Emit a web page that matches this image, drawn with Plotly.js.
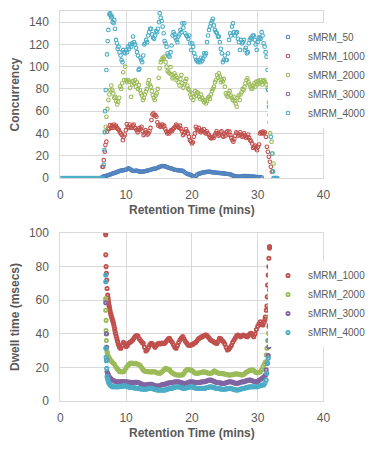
<!DOCTYPE html>
<html><head><meta charset="utf-8">
<script src="https://cdn.plot.ly/plotly-3.0.1.min.js"></script>
<style>html,body{margin:0;padding:0;background:#fff}#chart{width:371px;height:456px}</style>
</head><body><div id="chart"></div>
<script>
// ---------- data ----------
const seriesNames = ['sMRM_50','sMRM_1000','sMRM_2000','sMRM_3000','sMRM_4000'];
const xTicks = [0,10,20,30,40];

// Top chart: concurrency vs retention time
const concTime50 = [6.4,6.6,6.8,7.0,7.2, 7.4,7.6,7.8,8.0,8.2, 8.4,8.6,8.8,9.0,9.2, 9.4,9.6,9.8,10.0,10.2, 10.4,10.6,10.8,11.0,11.2, 11.4,11.6,11.8,12.0,12.2, 12.4,12.6,12.8,13.0,13.2, 13.4,13.6,13.8,14.0,14.2, 14.4,14.6,14.8,15.0,15.2, 15.4,15.6,15.8,16.0,16.2, 16.4,16.6,16.8,17.0,17.2, 17.4,17.6,17.8,18.0,18.2, 18.4,18.6,18.8,19.0,19.2, 19.4,19.6,19.8,20.0,20.2, 20.4,20.6,20.8,21.0,21.2, 21.4,21.6,21.8,22.0,22.2, 22.4,22.6,22.8,23.0,23.2, 23.4,23.6,23.8,24.0,24.2, 24.4,24.6,24.8,25.0,25.2, 25.4,25.6,25.8,26.0,26.2, 26.4,26.6,26.8,27.0,27.2, 27.4,27.6,27.8,28.0,28.2, 28.4,28.6,28.8,29.0,29.2, 29.4,29.6,29.8,30.0,30.2, 30.4,30.6];
const concVal50 = [1,1.3,1.6,2,2.4, 2.7,3.2,3.6,4.1,4.5, 4.8,5.3,5.8,6.3,6.6, 6.8,7,7.2,7.5,8.2, 8.7,8,7,6.5,6.3, 6.5,6.6,6.2,5.9,5.7, 5.7,5.8,6,6.3,6.6, 6.9,7.2,7.6,8,8.3, 8.5,8.7,9.2,9.8,10.3, 10.6,10.8,10.6,10.2,9.8, 9.4,9,8.7,8.3,7.8, 7.4,7.2,7,6.8,6.7, 6.6,6.4,5.6,4.7,4, 3.5,3.1,2.8,2.2,1.4, 0.6,1.8,3,3.7,4, 4.4,4.8,5,5.2,5.4, 5.6,5.7,5.5,5.3,5.1, 5,4.8,4.7,4.6,4.5, 4.3,4.2,4.1,4,3.8, 3.6,3.6,3.3,2.8,2.3, 1.8,1.5,1.3,1.2,1.2, 1.2,1.4,1.6,1.8,1.8, 1.8,1.6,1.4,1.2,1.2, 1.2,1,0.9,0.8,0.7, 0.6,0.5];

const concTime1000 = [6.4,6.5,6.6,6.75,6.85,7.0,7.1,7.25,7.4,7.55,7.7,7.85,8.0,8.15,8.3,8.45,8.6,8.75,8.9,9.05,9.2,9.35,9.5,9.65,9.8,9.95,10.1,10.25,10.4,10.55,10.7,10.85,11.0,11.15,11.3,11.45,11.6,11.75,11.9,12.05,12.2,12.35,12.5,12.65,12.8,12.95,13.1,13.25,13.4,13.55,13.7,13.85,14.0,14.15,14.3,14.45,14.6,14.75,14.9,15.05,15.2,15.35,15.5,15.65,15.8,15.95,16.1,16.25,16.4,16.55,16.7,16.85,17.0,17.15,17.3,17.45,17.6,17.75,17.9,18.05,18.2,18.35,18.5,18.65,18.8,18.95,19.1,19.25,19.4,19.55,19.7,19.85,20.0,20.15,20.3,20.45,20.6,20.75,20.9,21.05,21.2,21.35,21.5,21.65,21.8,21.95,22.1,22.25,22.4,22.55,22.7,22.85,23.0,23.15,23.3,23.45,23.6,23.75,23.9,24.05,24.2,24.35,24.5,24.65,24.8,24.95,25.1,25.25,25.4,25.55,25.7,25.85,26.0,26.15,26.3,26.45,26.6,26.75,26.9,27.05,27.2,27.35,27.5,27.65,27.8,27.95,28.1,28.25,28.4,28.55,28.7,28.85,29.0,29.15,29.3,29.45,29.6,29.75,29.9,30.05,30.2,30.35,30.5,30.65,30.8,30.95,31.1,31.25,31.4,31.55,31.7,31.85,32.0,32.15];
const concVal1000 = [10,10,16,23.6,29.6,32.6,41.6,44.6,44,47.6,45,47,45,48,46,47,45,44,43,41,40,38.6,34,37,39,43,48.5,46,45,48,46,45,47,48,45,44.6,43,41,43,45,44,46,42,38.6,40,43,41,39,40,42,45,52,57,58,56,56.5,55,50,47,48,46,47,48,46,47,44,42,40,41,40,42,43,42,44,45,46,48,47,46,45,47,44,42,38.6,40,41,44,42,40,37,34,33,31,32,37,40,46,44,43,45,42,41,43,42,44,41,40,42,40,39,37,36,35.6,37,36,38,40,42,40,38,39,41,42,38,37,40,38,41,42,39,41.6,38.6,36,34,32.6,35,38,41,40,38,39,41,39,37,38,40,38,36,37,39,36,34,33,31,27,28,29,26.6,25,28,30,40,41,40,41.6,40,41,37,28,23.6,19,14.6,10,5.6];

const concTime2000 = [6.8,6.9,7.0,7.15,7.3,7.45,7.6,7.75,7.9,8.05,8.2,8.35,8.5,8.65,8.8,8.95,9.1,9.25,9.4,9.55,9.7,9.85,10.0,10.15,10.3,10.45,10.6,10.75,10.9,11.05,11.2,11.35,11.5,11.65,11.8,11.95,12.1,12.25,12.4,12.55,12.7,12.85,13.0,13.15,13.3,13.45,13.6,13.75,13.9,14.05,14.2,14.35,14.5,14.65,14.8,14.95,15.1,15.25,15.4,15.55,15.7,15.85,16.0,16.15,16.3,16.45,16.6,16.75,16.9,17.05,17.2,17.35,17.5,17.65,17.8,17.95,18.1,18.25,18.4,18.55,18.7,18.85,19.0,19.15,19.3,19.45,19.6,19.75,19.9,20.05,20.2,20.35,20.5,20.65,20.8,20.95,21.1,21.25,21.4,21.55,21.7,21.85,22.0,22.15,22.3,22.45,22.6,22.75,22.9,23.05,23.2,23.35,23.5,23.65,23.8,23.95,24.1,24.25,24.4,24.55,24.7,24.85,25.0,25.15,25.3,25.45,25.6,25.75,25.9,26.05,26.2,26.35,26.5,26.65,26.8,26.95,27.1,27.25,27.4,27.55,27.7,27.85,28.0,28.15,28.3,28.45,28.6,28.75,28.9,29.05,29.2,29.35,29.5,29.65,29.8,29.95,30.1,30.25,30.4,30.55,30.7,30.85,31.0,31.15,31.3,31.5,31.7,31.8,31.9,32.1,32.25,32.4,32.35];
const concVal2000 = [41.6,46,55,62,70,75,79,83,79,76,72,73,69,66,68.5,72,82,80,85,95,88,100,88,86,88,86.5,81,73,84,87,85,88,82,86,80,83.5,79,76,74,70,72,75,77.5,80,85,88,84,82,78,74.5,72,70,74,76,80,90,98.5,104,106,108,107,109,104,100,96,95,94,99.5,93,89.5,91,94,92,88,90,86,83,89,92.5,85,81,84,87,89,83,80,79,75,72,76,70,73,78,74,77,76,73,71,75,72,70,68,70,67,69,72,73,71,75,78,80,82,86,88,92.5,90,94,91,86,88,86.6,89,82,76,74,73,76,78,74,72,70,73,69,67,64,72,74,70,75,77,80,79,82,85,88,89.5,86,84,82,80,80.5,83,85,82,86.5,84,87,85,88,86,84,87,88,86,84,80.5,68,56.5,40,32.6,22,13,5.7];

// sMRM_3000 has no visible points in the concurrency panel (legend entry only)
const concTime3000 = [null];
const concVal3000 = [null];

const concTime4000 = [0,0.2,0.4,0.6,0.8,1,1.2,1.4,1.6,1.8,2,2.2,2.4,2.6,2.8,3,3.2,3.4,3.6,3.8,4,4.2,4.4,4.6,4.8,5,5.2,5.4,5.6,5.8,6,6.2,6.4,6.6,6.7,6.75,6.8,6.9,7.0,7.1,7.2,7.3,7.45,7.55,7.65,7.75,7.85,7.95,8.1,8.2,8.3,8.45,8.6,8.7,8.85,9.0,9.15,9.3,9.45,9.55,9.7,9.85,10.0,10.15,10.3,10.45,10.6,10.75,10.9,11.05,11.2,11.35,11.5,11.65,11.8,11.9,12.0,12.15,12.3,12.45,12.6,12.75,12.9,13.05,13.2,13.35,13.5,13.65,13.8,13.95,14.1,14.25,14.4,14.55,14.7,14.85,15.0,15.1,15.25,15.4,15.55,15.7,15.85,16.0,16.15,16.3,16.45,16.6,16.75,16.9,17.05,17.2,17.35,17.5,17.65,17.8,17.95,18.1,18.25,18.4,18.55,18.7,18.85,19.0,19.15,19.3,19.45,19.6,19.75,19.9,20.05,20.2,20.35,20.5,20.65,20.8,20.95,21.1,21.25,21.4,21.55,21.7,21.85,22.0,22.15,22.3,22.45,22.6,22.75,22.9,23.05,23.2,23.35,23.5,23.65,23.8,23.95,24.1,24.25,24.4,24.55,24.7,24.85,25.0,25.15,25.3,25.5,25.65,25.8,25.95,26.1,26.25,26.4,26.55,26.7,26.85,27.0,27.15,27.3,27.45,27.6,27.75,27.9,28.05,28.2,28.35,28.5,28.65,28.8,28.95,29.1,29.25,29.4,29.55,29.7,29.85,30.0,30.15,30.3,30.45,30.6,30.75,30.9,31.05,31.2,31.35,31.5,31.6,31.7,31.8,32.0,32.2,32.3,32.4,32.5,32.6,32.7,32.8,32.9,33.0];
const concVal4000 = [0,0,0,0,0,0,0,0,0,0,0,0,0,0,0,0,0,0,0,0,0,0,0,0,0,0,0,0,0,0,0,0,0,12,25,41,60,79,97,111,123,133,147,148,146,144,145,140,139,142,134,124,121,116,118,113,110,106,104,115,113,112,115,113,118,116,120,118,121,127,122,120,117,113,110,97,98,108,106,104,110,120,121,124,122,128,131,134,134,129,126,125,128,132,131,134,140,148,144,141,136,130,123,121,118,112,110,109,113,119,128,131,129,126,124,122,127,129,133,131,139,135,139,130,128,127,125,128,121,115,121,118,112,109,106,105,104,106,104,108,105,107,112,110,112,122,128,133,136,139,141,143,137,133,131,130,127,127,122,116,112,104,106,110,106,106,112,124,130,128,136,139,131,128,130,131,125,122,115,124,121,122,124,115,117,112,113,121,124,126,125,128,128,124,120,115,122,126,126,125,131,128,121,118,113,109,97,79,64,50,37,22,6,0,0,0,0,0,0,0,0];

// Bottom chart: dwell time vs retention time
const dwellTime1000 = [6.9,6.9,6.9,6.95,7.0,7.05,7.1,7.2,7.25,7.3,7.35,7.4,7.45,7.5,7.57,7.65,7.72,7.8,7.87,7.95,8.02,8.1,8.17,8.25,8.32,8.4,8.5,8.6,8.7,8.8,8.9,9.0,9.1, 9.2,9.4,9.6,9.8,10.0,10.2,10.4,10.6,10.8,11.0,11.2,11.4,11.6,11.8,12.0,12.2,12.4,12.6,12.8,13.0,13.2,13.4,13.6,13.8,14.0,14.2,14.4,14.6,14.8,15.0,15.2,15.4,15.6,15.8,16.0,16.2,16.4,16.6,16.8,17.0,17.2,17.4,17.6,17.8,18.0,18.2,18.4,18.6,18.8,19.0,19.2,19.4,19.6,19.8,20.0,20.2,20.4,20.6,20.8,21.0,21.2,21.4,21.6,21.8,22.0,22.2,22.4,22.6,22.8,23.0,23.2,23.4,23.6,23.8,24.0,24.2,24.4,24.6,24.8,25.0,25.2,25.4,25.6,25.8,26.0,26.2,26.4,26.6,26.8,27.0,27.2,27.4,27.6,27.8,28.0,28.2,28.4,28.6,28.8,29.0,29.2,29.4,29.6,29.8,30.0,30.2,30.4,30.6,30.8,31.0, 31.1,31.15,31.3,31.4,31.45,31.5,31.6,31.7,31.7,31.8,31.8];
const dwellMs1000 = [100,99,87,80,76,72,67,63,61.5,60,58.5,57,56,55,53.5,52,51,50,49,48,47,46,44.5,43,41.5,40,38.5,37,35.5,34,33,32,31.6, 31.4,33,35,34,32.5,33,34.5,35,35.5,36.3,37.5,38.5,39,38.7,37,36,35,34.3,32,29.8,30.5,32,33.5,34.3,34,33,32,33,34,34.3,34,34.5,34.3,34.3,35,36,37,37.3,36,35,33.5,32,31.4,33,35,36.5,37.5,38.3,37,35.5,34.5,33.5,33,33.3,33.5,34,34.5,35,36,37,37.5,38,38.3,38.8,39.3,39.3,38.5,37.5,36.5,36,35.5,35,34.5,34.3,35.5,37.3,37,36,35.3,34,32,30.4,30.8,31.8,33,35,36.3,37.5,38.8,39.3,38.8,38.3,38.8,39.3,39,38.5,38.3,39,40,40.3,39.5,38.3,40,42.5,44.5,46,47.2,45.5,45.2,47.2, 48.5,50,54,56.5,62,69,75,80,85,91,92];

const dwellTime2000 = [6.9,6.9,6.9,6.95,6.95,7.0,7.0,7.05,7.1,7.15,7.2,7.3,7.38,7.45,7.52,7.6,7.7, 7.8,8.0,8.2,8.4,8.6,8.8,9.0,9.2,9.4,9.6,9.8,10.0,10.2,10.4,10.6,10.8,11.0,11.2,11.4,11.6,11.8,12.0,12.2,12.4,12.6,12.8,13.0,13.2,13.4,13.6,13.8,14.0,14.2,14.4,14.6,14.8,15.0,15.2,15.4,15.6,15.8,16.0,16.2,16.4,16.6,16.8,17.0,17.2,17.4,17.6,17.8,18.0,18.2,18.4,18.6,18.8,19.0,19.2,19.4,19.6,19.8,20.0,20.2,20.4,20.6,20.8,21.0,21.2,21.4,21.6,21.8,22.0,22.2,22.4,22.6,22.8,23.0,23.2,23.4,23.6,23.8,24.0,24.2,24.4,24.6,24.8,25.0,25.2,25.4,25.6,25.8,26.0,26.2,26.4,26.6,26.8,27.0,27.2,27.4,27.6,27.8,28.0,28.2,28.4,28.6,28.8,29.0,29.2,29.4,29.6,29.8,30.0,30.2,30.4,30.6,30.8,31.0,31.2, 31.3,31.4,31.5,31.65,31.7,31.7,31.75,31.8,31.9];
const dwellMs2000 = [61,60,54,48,42,40,36,32,29.4,28.4,27.5,26.4,25.8,25.3,24.8,24.4,24, 23.5,22.8,22,20.5,19.4,18.5,17.6,17.4,17.4,17.4,18.3,19.8,20.8,21.8,22.4,22.6,22.4,22.2,22.4,22.2,21.9,21.6,20.8,19.6,18.5,17.9,17.6,17.5,17.4,17.4,17.3,17.4,17.4,17.4,17,16.7,16.5,16.6,17.2,18,18.8,19.4,19.2,18.8,18.5,17.6,16.8,16.3,15.9,15.6,15.5,15.5,15.5,15.5,15.6,16.5,17.8,18.5,18.7,18.6,18.5,18.2,17.5,16.8,16.5,16.5,16.6,16.8,17,17.2,17.4,17.3,17,16.7,16.5,16.5,16.7,17.3,18,17.6,17,16.6,16.5,16.4,16.3,16.2,16.1,15.9,15.7,15.5,15.5,15.6,15.8,16,16.1,16.2,16.1,15.9,15.6,15.5,15.7,16.2,16.9,17.4,17.8,18.2,18.4,18.5,18.1,17.4,16.9,16.8,17.1,17.4,18.5,20.4,22,23.4, 27.4,31.4,36,40.3,44.2,50.2,57,63,78];

const dwellTime3000 = [6.9,7.0,7.0,7.05,7.1,7.18,7.25,7.32,7.4,7.5,7.6,7.75,7.9, 8.1,8.3,8.5,8.7,8.9, 9.1,9.3,9.5,9.7,9.9, 10.1,10.3,10.5,10.7,10.9, 11.1,11.3,11.5,11.7,11.9, 12.1,12.3,12.5,12.7,12.9, 13.1,13.3,13.5,13.7,13.9, 14.1,14.3,14.5,14.7,14.9, 15.1,15.3,15.5,15.7,15.9, 16.1,16.3,16.5,16.7,16.9, 17.1,17.3,17.5,17.7,17.9, 18.1,18.3,18.5,18.7,18.9, 19.1,19.3,19.5,19.7,19.9, 20.1,20.3,20.5,20.7,20.9, 21.1,21.3,21.5,21.7,21.9, 22.1,22.3,22.5,22.7,22.9, 23.1,23.3,23.5,23.7,23.9, 24.1,24.3,24.5,24.7,24.9, 25.1,25.3,25.5,25.7,25.9, 26.1,26.3,26.5,26.7,26.9, 27.1,27.3,27.5,27.7,27.9, 28.1,28.3,28.5,28.7,28.9, 29.1,29.3,29.5,29.7,29.9, 30.1,30.3,30.5,30.7,30.9, 31.1, 31.2,31.3,31.45,31.6,31.7,31.75,31.8];
const dwellMs3000 = [58.5,40,32,24.4,17.4,16.5,15.8,15.1,14.5,14,13.5,13,12.5, 12.1,11.8,11.6,11.5,11.5, 11.5,11.6,11.6,11.5,11.5, 11.4,11.3,11.2,11.1,11, 11,11.1,11.2,11.1,11, 10.6,10.2,9.8,9.6,9.5, 9.6,9.8,10,10,10, 9.6,9.2,9,8.9,8.9, 9.1,9.5,9.8,10,10, 10.3,10.6,10.8,10.9,10.9, 11.1,11.3,11.4,11.5,11.5, 11.3,11,10.8,10.6,10.5, 10.6,10.9,11.2,11.4,11.5, 11.4,11.2,11.1,11,11, 11.1,11.2,11.4,11.5,11.5, 11.7,12,12.3,12.5,12.5, 12.2,11.8,11.4,11.1,11, 10.9,10.8,10.6,10.5,10.5, 10.7,11,11.3,11.5,11.5, 11.3,11,10.7,10.5,10.5, 10.7,11,11.3,11.5,11.5, 11.8,12.1,12.3,12.5,12.5, 12.2,11.9,11.6,11.5,11.5, 12,12.6,13.1,13.5,14.2, 15, 15.5,18.5,22.4,27,32.3,45,66];

const dwellTime4000 = [6.9,6.9,6.9,6.95,7.0,7.05,7.1,7.18,7.25,7.32,7.4,7.5,7.6,7.75,7.9, 8.1,8.3,8.5,8.7,8.9, 9.1,9.3,9.5,9.7,9.9, 10.1,10.3,10.5,10.7,10.9, 11.1,11.3,11.5,11.7,11.9, 12.1,12.3,12.5,12.7,12.9, 13.1,13.3,13.5,13.7,13.9, 14.1,14.3,14.5,14.7,14.9, 15.1,15.3,15.5,15.7,15.9, 16.1,16.3,16.5,16.7,16.9, 17.1,17.3,17.5,17.7,17.9, 18.1,18.3,18.5,18.7,18.9, 19.1,19.3,19.5,19.7,19.9, 20.1,20.3,20.5,20.7,20.9, 21.1,21.3,21.5,21.7,21.9, 22.1,22.3,22.5,22.7,22.9, 23.1,23.3,23.5,23.7,23.9, 24.1,24.3,24.5,24.7,24.9, 25.1,25.3,25.5,25.7,25.9, 26.1,26.3,26.5,26.7,26.9, 27.1,27.3,27.5,27.7,27.9, 28.1,28.3,28.5,28.7,28.9, 29.1,29.3,29.5,29.7,29.9, 30.1,30.3,30.5,30.7,30.9, 31.1, 31.3,31.4,31.5,31.6,31.7,31.8];
const dwellMs4000 = [75,71,31.4,26,24,19.4,14.5,13.2,12.2,11.3,10.5,9.9,9.4,8.9,8.5, 8.5,8.5,8.5,8.5,8.5, 8.6,8.8,9,9,9, 8.8,8.5,8.2,8,8, 7.9,7.8,7.7,7.6,7.5, 7.3,7.2,7.1,7,7, 7.1,7.3,7.4,7.5,7.5, 7.3,7,6.8,6.6,6.5, 6.5,6.5,6.5,6.5,6.5, 6.8,7.1,7.3,7.5,7.5, 7.8,8.1,8.3,8.5,8.5, 8.3,8,7.8,7.6,7.5, 7.7,8,8.2,8.4,8.5, 8.3,8,7.8,7.6,7.5, 7.5,7.5,7.5,7.5,7.5, 7.7,8,8.2,8.4,8.5, 8.3,8,7.8,7.6,7.5, 7.4,7.2,7.1,7,7, 7.1,7.2,7.4,7.5,7.5, 7.3,7,6.8,6.6,6.5, 6.7,7,7.2,7.4,7.5, 7.7,8,8.2,8.4,8.5, 8.5,8.5,8.5,8.5,8.5, 8.8,9.1,9.3,9.5,9.5, 10.5, 12.5,16.5,22.4,25.4,36.3,50.2];

// ---------- styling ----------
const colors = {'sMRM_50':'#4F81BD','sMRM_1000':'#C0504D','sMRM_2000':'#9BBB59','sMRM_3000':'#8064A2','sMRM_4000':'#4BACC6'};
const txt = '#595959', grid = '#d9d9d9';
const FONT = '"Liberation Sans", Arial, sans-serif';

function mk(name, x, y, xa, ya, legend, size, lw){
  return {type:'scatter', mode:'markers', name:name, x:x, y:y, xaxis:xa, yaxis:ya, legend:legend,
    marker:{symbol:'circle-open', size:size, color:colors[name], line:{width:lw, color:colors[name]}},
    hoverinfo:'skip'};
}
const topData = [[concTime50,concVal50],[concTime1000,concVal1000],[concTime2000,concVal2000],[concTime3000,concVal3000],[concTime4000,concVal4000]];
const botData = [[dwellTime1000,dwellMs1000],[dwellTime2000,dwellMs2000],[dwellTime3000,dwellMs3000],[dwellTime4000,dwellMs4000]];
const traces = [];
seriesNames.forEach((n,i)=>traces.push(mk(n, topData[i][0], topData[i][1], 'x', 'y', 'legend', 3.6, 1.1)));
seriesNames.slice(1).forEach((n,i)=>traces.push(mk(n, botData[i][0], botData[i][1], 'x2', 'y2', 'legend2', 3.3, 1.8)));

function xax(anchor, domain){
  return {domain:domain, anchor:anchor, range:[0,40], tickvals:xTicks, showgrid:true, gridcolor:grid, gridwidth:1,
    showline:true, linecolor:grid, mirror:true, zeroline:false, ticks:'', ticklabelstandoff:6,
    tickfont:{size:12, color:txt},
    title:{text:'Retention Time (mins)', font:{size:12, color:txt, weight:'bold'}, standoff:4}};
}
function yax(anchor, domain, range, title){
  return {domain:domain, anchor:anchor, range:range, dtick:20, tick0:0, showgrid:true, gridcolor:grid, gridwidth:1,
    showline:true, linecolor:grid, mirror:true, zeroline:false, ticks:'', ticklabelstandoff:8,
    tickfont:{size:12, color:txt},
    title:{text:title, font:{size:12, color:txt, weight:'bold'}, standoff:6}};
}
const W=371,H=456;
const xd=[61/W, 327/W];
const layout = {
  width:W, height:H, margin:{l:0,r:0,t:0,b:0}, paper_bgcolor:'#fff', plot_bgcolor:'#fff',
  font:{family:FONT, size:12, color:txt},
  xaxis: xax('y', xd),
  yaxis: yax('x', [1-178/H, 1-11/H], [0,150], 'Concurrency'),
  xaxis2: xax('y2', xd),
  yaxis2: yax('x2', [1-401/H, 1-233/H], [0,100], 'Dwell time (msecs)'),
  legend:{x:271/W, xanchor:'left', y:1-75/H, yanchor:'middle', bgcolor:'#fff', borderwidth:0,
    font:{family:FONT, size:10, color:txt}, tracegroupgap:0, itemclick:false},
  legend2:{x:271/W, xanchor:'left', y:1-304/H, yanchor:'middle', bgcolor:'#fff', borderwidth:0,
    font:{family:FONT, size:10, color:txt}, tracegroupgap:0, itemclick:false},
  showlegend:true
};
Plotly.newPlot('chart', traces, layout, {staticPlot:true, displayModeBar:false});
</script></body></html>
